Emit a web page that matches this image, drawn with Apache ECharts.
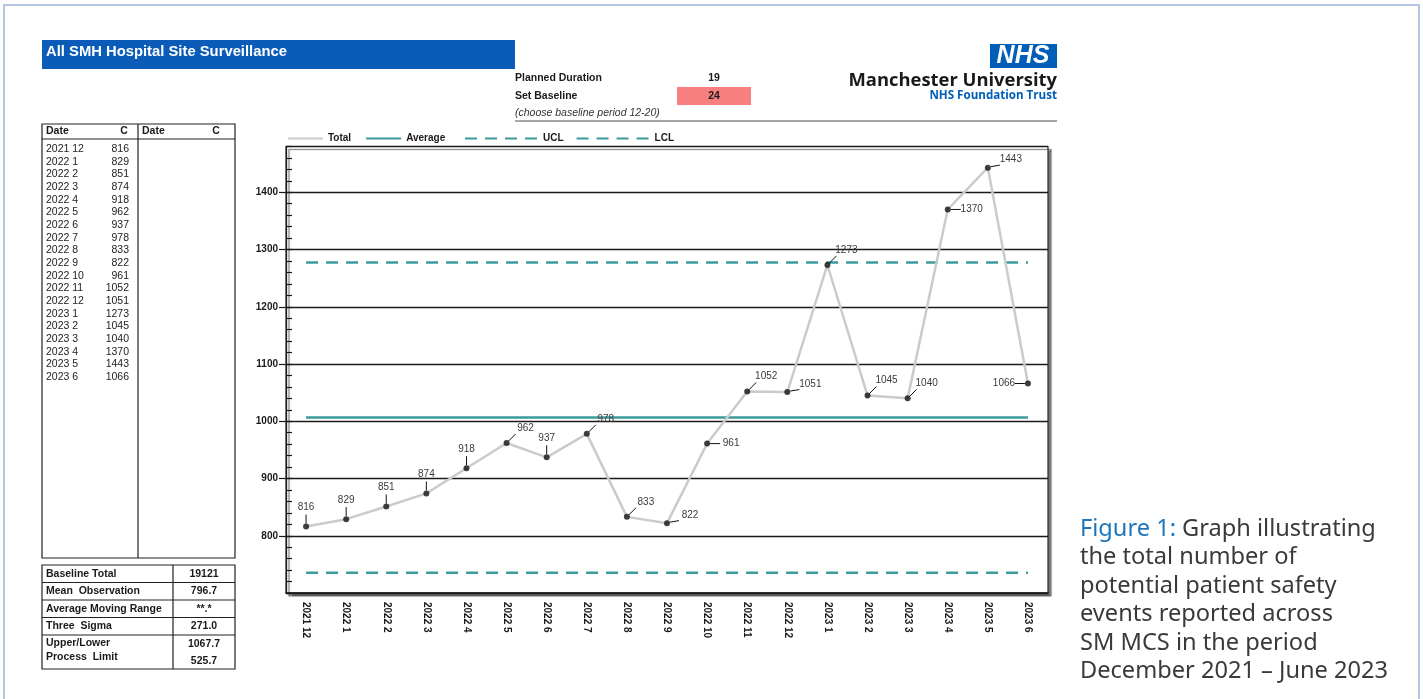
<!DOCTYPE html>
<html>
<head>
<meta charset="utf-8">
<script src="https://cdn.jsdelivr.net/npm/echarts@6/dist/echarts.min.js"></script>
<style>
  html, body { margin: 0; padding: 0; background: #ffffff; }
  #chart { width: 1423px; height: 699px; }
</style>
</head>
<body>
<div id="chart"></div>
<script>
// Monthly counts of reported events, Dec 2021 – Jun 2023
const categories = ['2021 12', '2022 1', '2022 2', '2022 3', '2022 4', '2022 5', '2022 6', '2022 7', '2022 8', '2022 9',
  '2022 10', '2022 11', '2022 12', '2023 1', '2023 2', '2023 3', '2023 4', '2023 5', '2023 6'];
const counts = [816, 829, 851, 874, 918, 962, 937, 978, 833, 822, 961, 1052, 1051, 1273, 1045, 1040, 1370, 1443, 1066];

// Control lines
const averageValue = 1006.4;
const uclValue = 1277.4;
const lclValue = 735.4;

// Where each point's value label sits relative to its marker
const labelPlacement = ['up', 'up', 'up', 'up', 'up', 'ur', 'up', 'ur', 'ur', 'rs', 'r', 'ur', 'rs', 'ur', 'ur', 'ur', 'r', 'rs', 'l'];

// Summary table
const statLabels = ['Baseline Total', 'Mean  Observation', 'Average Moving Range', 'Three  Sigma'];
const statValues = ['19121', '796.7', '**.*', '271.0'];
const limitLabels = ['Upper/Lower', 'Process  Limit'];
const limitValues = ['1067.7', '525.7'];

// Header fields
const headerTitle = 'All SMH Hospital Site Surveillance';
const plannedDuration = '19';
const setBaseline = '24';

const captionLines = ['Graph illustrating', 'the total number of', 'potential patient safety',
  'events reported across', 'SM MCS in the period', 'December 2021 \u2013 June 2023'];

const FONT = "'Liberation Sans', Arial, sans-serif";
const LOGO_FONT = "'Open Sans', 'Noto Sans', sans-serif";
const NHS_BLUE = '#005eb8';
const TEAL = '#3d9a9b';
const BOLD = 'bold 10.5px ' + FONT;

function txt(x, y, text, o) {
  o = o || {};
  const align = o.align || 'left';
  const valign = o.valign || 'middle';
  return {
    type: 'text', x: x, y: y, silent: true,
    style: {
      text: text,
      fill: o.fill || '#1a1a1a',
      font: o.font || ('10px ' + FONT),
      align: align, textAlign: align,
      verticalAlign: valign, textVerticalAlign: valign,
      rich: o.rich
    }
  };
}
function line(x1, y1, x2, y2, stroke, w) {
  return { type: 'line', silent: true, shape: { x1: x1, y1: y1, x2: x2, y2: y2 },
    style: { stroke: stroke || '#222', lineWidth: w || 1 } };
}
function rect(x, y, w, h, style) {
  return { type: 'rect', silent: true, shape: { x: x, y: y, width: w, height: h }, style: style };
}

const graphics = [];
// page frame
graphics.push(rect(4, 5, 1415, 720, { fill: 'none', stroke: '#b5c6e5', lineWidth: 2 }));

// title bar
graphics.push(rect(42, 40, 473, 29, { fill: '#0a5cb8' }));
graphics.push(txt(46, 52, headerTitle, { fill: '#ffffff', font: 'bold 14.8px ' + FONT }));

// baseline settings
graphics.push(txt(515, 78, 'Planned Duration', { font: BOLD }));
graphics.push(txt(714, 78, plannedDuration, { font: BOLD, align: 'center' }));
graphics.push(rect(677, 87, 74, 18, { fill: '#f77f7f' }));
graphics.push(txt(515, 96, 'Set Baseline', { font: BOLD }));
graphics.push(txt(714, 96, setBaseline, { font: BOLD, align: 'center' }));
graphics.push(txt(515, 113, '(choose baseline period 12-20)', { font: 'italic 10.5px ' + FONT, fill: '#333' }));
graphics.push(line(515, 121, 1057, 121, '#8a8a8a', 1.5));

// trust logo
graphics.push(rect(990, 44, 67, 24, { fill: NHS_BLUE }));
graphics.push(txt(1023, 56.5, 'NHS', { fill: '#ffffff', font: 'italic bold 25px ' + FONT, align: 'center' }));
graphics.push(txt(1057, 81, 'Manchester University', { fill: '#1a1a1a', font: 'bold 18.4px ' + LOGO_FONT, align: 'right' }));
graphics.push(txt(1057, 96, 'NHS Foundation Trust', { fill: NHS_BLUE, font: 'bold 11.6px ' + LOGO_FONT, align: 'right' }));

// data table
graphics.push(rect(42, 124, 193, 434, { fill: 'none', stroke: '#222', lineWidth: 1.2 }));
graphics.push(line(138, 124, 138, 558, '#222', 1.2));
graphics.push(line(42, 139, 235, 139, '#222', 1.2));
graphics.push(txt(46, 131, 'Date', { font: BOLD }));
graphics.push(txt(124, 131, 'C', { font: BOLD, align: 'center' }));
graphics.push(txt(142, 131, 'Date', { font: BOLD }));
graphics.push(txt(216, 131, 'C', { font: BOLD, align: 'center' }));
categories.forEach(function (c, i) {
  const y = 149 + i * 12.67;
  graphics.push(txt(46, y, c, { fill: '#222', font: '10.5px ' + FONT }));
  graphics.push(txt(129, y, String(counts[i]), { fill: '#222', align: 'right', font: '10.5px ' + FONT }));
});

// summary table
graphics.push(rect(42, 565, 193, 104, { fill: 'none', stroke: '#222', lineWidth: 1.2 }));
graphics.push(line(173, 565, 173, 669, '#222', 1.2));
[582.5, 600, 617.5, 635].forEach(function (y) { graphics.push(line(42, y, 235, y, '#222', 1.2)); });
const statRows = [574, 591, 609, 626];
statLabels.forEach(function (s, i) {
  graphics.push(txt(46, statRows[i], s, { font: BOLD }));
  graphics.push(txt(204, statRows[i], statValues[i], { font: BOLD, align: 'center' }));
});
graphics.push(txt(46, 643, limitLabels[0], { font: BOLD }));
graphics.push(txt(46, 657, limitLabels[1], { font: BOLD }));
graphics.push(txt(204, 644, limitValues[0], { font: BOLD, align: 'center' }));
graphics.push(txt(204, 661, limitValues[1], { font: BOLD, align: 'center' }));

// caption
const capFont = "23.6px 'Noto Sans', 'Open Sans', sans-serif";
graphics.push(txt(1080, 529, '{b|Figure 1:} ' + captionLines[0], {
  fill: '#3a3a3a', font: capFont,
  rich: { b: { fill: '#1c76bc', font: capFont } }
}));
captionLines.slice(1).forEach(function (s, i) {
  graphics.push(txt(1080, 557.5 + i * 28.5, s, { fill: '#3a3a3a', font: capFont }));
});

// value label offsets: leader segment [x1,y1,x2,y2] and label centre [dx,dy]
const LEADERS = {
  up: { seg: [0, -3, 0, -12], at: [0, -19] },
  ur: { seg: [2, -2, 9, -9], at: [19, -15] },
  rs: { seg: [3, -1, 12, -2.5], at: [23, -8] },
  r:  { seg: [3, 0, 13, 0], at: [24, 0] },
  l:  { seg: [-3, 0, -13, 0], at: [-24, 0] }
};

const flat = function (v) { return categories.map(function () { return v; }); };

const legendText = { fontFamily: FONT, fontSize: 10, fontWeight: 'bold', color: '#1a1a1a' };

const chart = echarts.init(document.getElementById('chart'), null, { renderer: 'canvas' });
chart.setOption({
  animation: false,
  backgroundColor: '#ffffff',
  textStyle: { fontFamily: FONT },
  grid: {
    left: 286, right: 375, top: 146.5, bottom: 106,
    show: true, backgroundColor: '#ffffff', borderColor: '#2a2a2a', borderWidth: 1.2,
    shadowColor: 'rgba(0,0,0,0.55)', shadowOffsetX: 3, shadowOffsetY: 3, shadowBlur: 1
  },
  legend: [
    {
      left: 287, top: 133, padding: 0, itemWidth: 35, itemHeight: 14, itemGap: 14,
      data: ['Total', 'Average'], selectedMode: false,
      itemStyle: { opacity: 0 },
      textStyle: legendText
    },
    {
      left: 464, top: 133, padding: 0, itemWidth: 73, itemHeight: 14, itemGap: 12,
      data: ['UCL', 'LCL'], selectedMode: false,
      itemStyle: { opacity: 0 },
      textStyle: legendText
    }
  ],
  xAxis: [
    {
      type: 'category', data: categories, position: 'bottom',
      axisLine: { lineStyle: { color: '#1a1a1a', width: 1.5 } },
      axisTick: { alignWithLabel: true, length: 9, lineStyle: { color: '#1a1a1a', width: 1.2 } },
      axisLabel: { rotate: -90, margin: 9, interval: 0, fontFamily: FONT, fontSize: 10, fontWeight: 'bold', color: '#1a1a1a' }
    },
    {
      type: 'category', data: categories, position: 'bottom',
      axisLine: { show: false },
      axisTick: { alignWithLabel: true, inside: true, length: 6, lineStyle: { color: '#1a1a1a', width: 1.2 } },
      axisLabel: { show: false }
    }
  ],
  yAxis: [
    {
      type: 'value', min: 700, max: 1480, interval: 100, position: 'left',
      axisLine: { show: true, lineStyle: { color: '#1a1a1a', width: 1.2 } },
      axisTick: { show: true, length: 7, lineStyle: { color: '#1a1a1a', width: 1.2 } },
      axisLabel: {
        margin: 8, showMinLabel: false, showMaxLabel: false,
        formatter: function (v) { return String(v); },
        fontFamily: FONT, fontSize: 10, fontWeight: 'bold', color: '#1a1a1a'
      },
      splitLine: { show: true, lineStyle: { color: '#1a1a1a', width: 1.3 } }
    },
    {
      type: 'value', min: 700, max: 1480, interval: 20, position: 'left',
      axisLine: { show: false },
      axisTick: { show: true, inside: true, length: 6, lineStyle: { color: '#1a1a1a', width: 1.2 } },
      axisLabel: { show: false },
      splitLine: { show: false }
    }
  ],
  series: [
    {
      name: 'Total', type: 'line', data: counts, symbol: 'none', z: 3,
      lineStyle: { color: '#cbcbcb', width: 2.5 }, itemStyle: { color: '#cbcbcb' }
    },
    {
      name: 'Average', type: 'line', data: flat(averageValue), symbol: 'none', z: 2,
      lineStyle: { color: TEAL, width: 2.5 }, itemStyle: { color: TEAL }
    },
    {
      name: 'UCL', type: 'line', data: flat(uclValue), symbol: 'none', z: 2,
      lineStyle: { color: TEAL, width: 2.5, type: [12, 8] }, itemStyle: { color: TEAL }
    },
    {
      name: 'LCL', type: 'line', data: flat(lclValue), symbol: 'none', z: 2,
      lineStyle: { color: TEAL, width: 2.5, type: [12, 8] }, itemStyle: { color: TEAL }
    },
    {
      name: 'points', type: 'scatter', data: counts, symbol: 'circle', symbolSize: 6, z: 4,
      itemStyle: { color: '#111111' }
    },
    {
      name: 'labels', type: 'custom', z: 5, clip: false,
      data: counts.map(function (v, i) { return [i, v]; }),
      encode: { x: 0, y: 1 },
      renderItem: function (params, api) {
        const i = api.value(0);
        const v = api.value(1);
        const p = api.coord([i, v]);
        const spec = LEADERS[labelPlacement[i]];
        return {
          type: 'group',
          children: [
            { type: 'line', shape: { x1: p[0] + spec.seg[0], y1: p[1] + spec.seg[1], x2: p[0] + spec.seg[2], y2: p[1] + spec.seg[3] },
              style: { stroke: '#111', lineWidth: 1 } },
            { type: 'text', x: p[0] + spec.at[0], y: p[1] + spec.at[1],
              style: { text: String(v), fill: '#3a3a3a', font: '10px ' + FONT,
                align: 'center', textAlign: 'center', verticalAlign: 'middle', textVerticalAlign: 'middle' } }
          ]
        };
      }
    }
  ],
  graphic: { elements: graphics }
});
</script>
</body>
</html>
